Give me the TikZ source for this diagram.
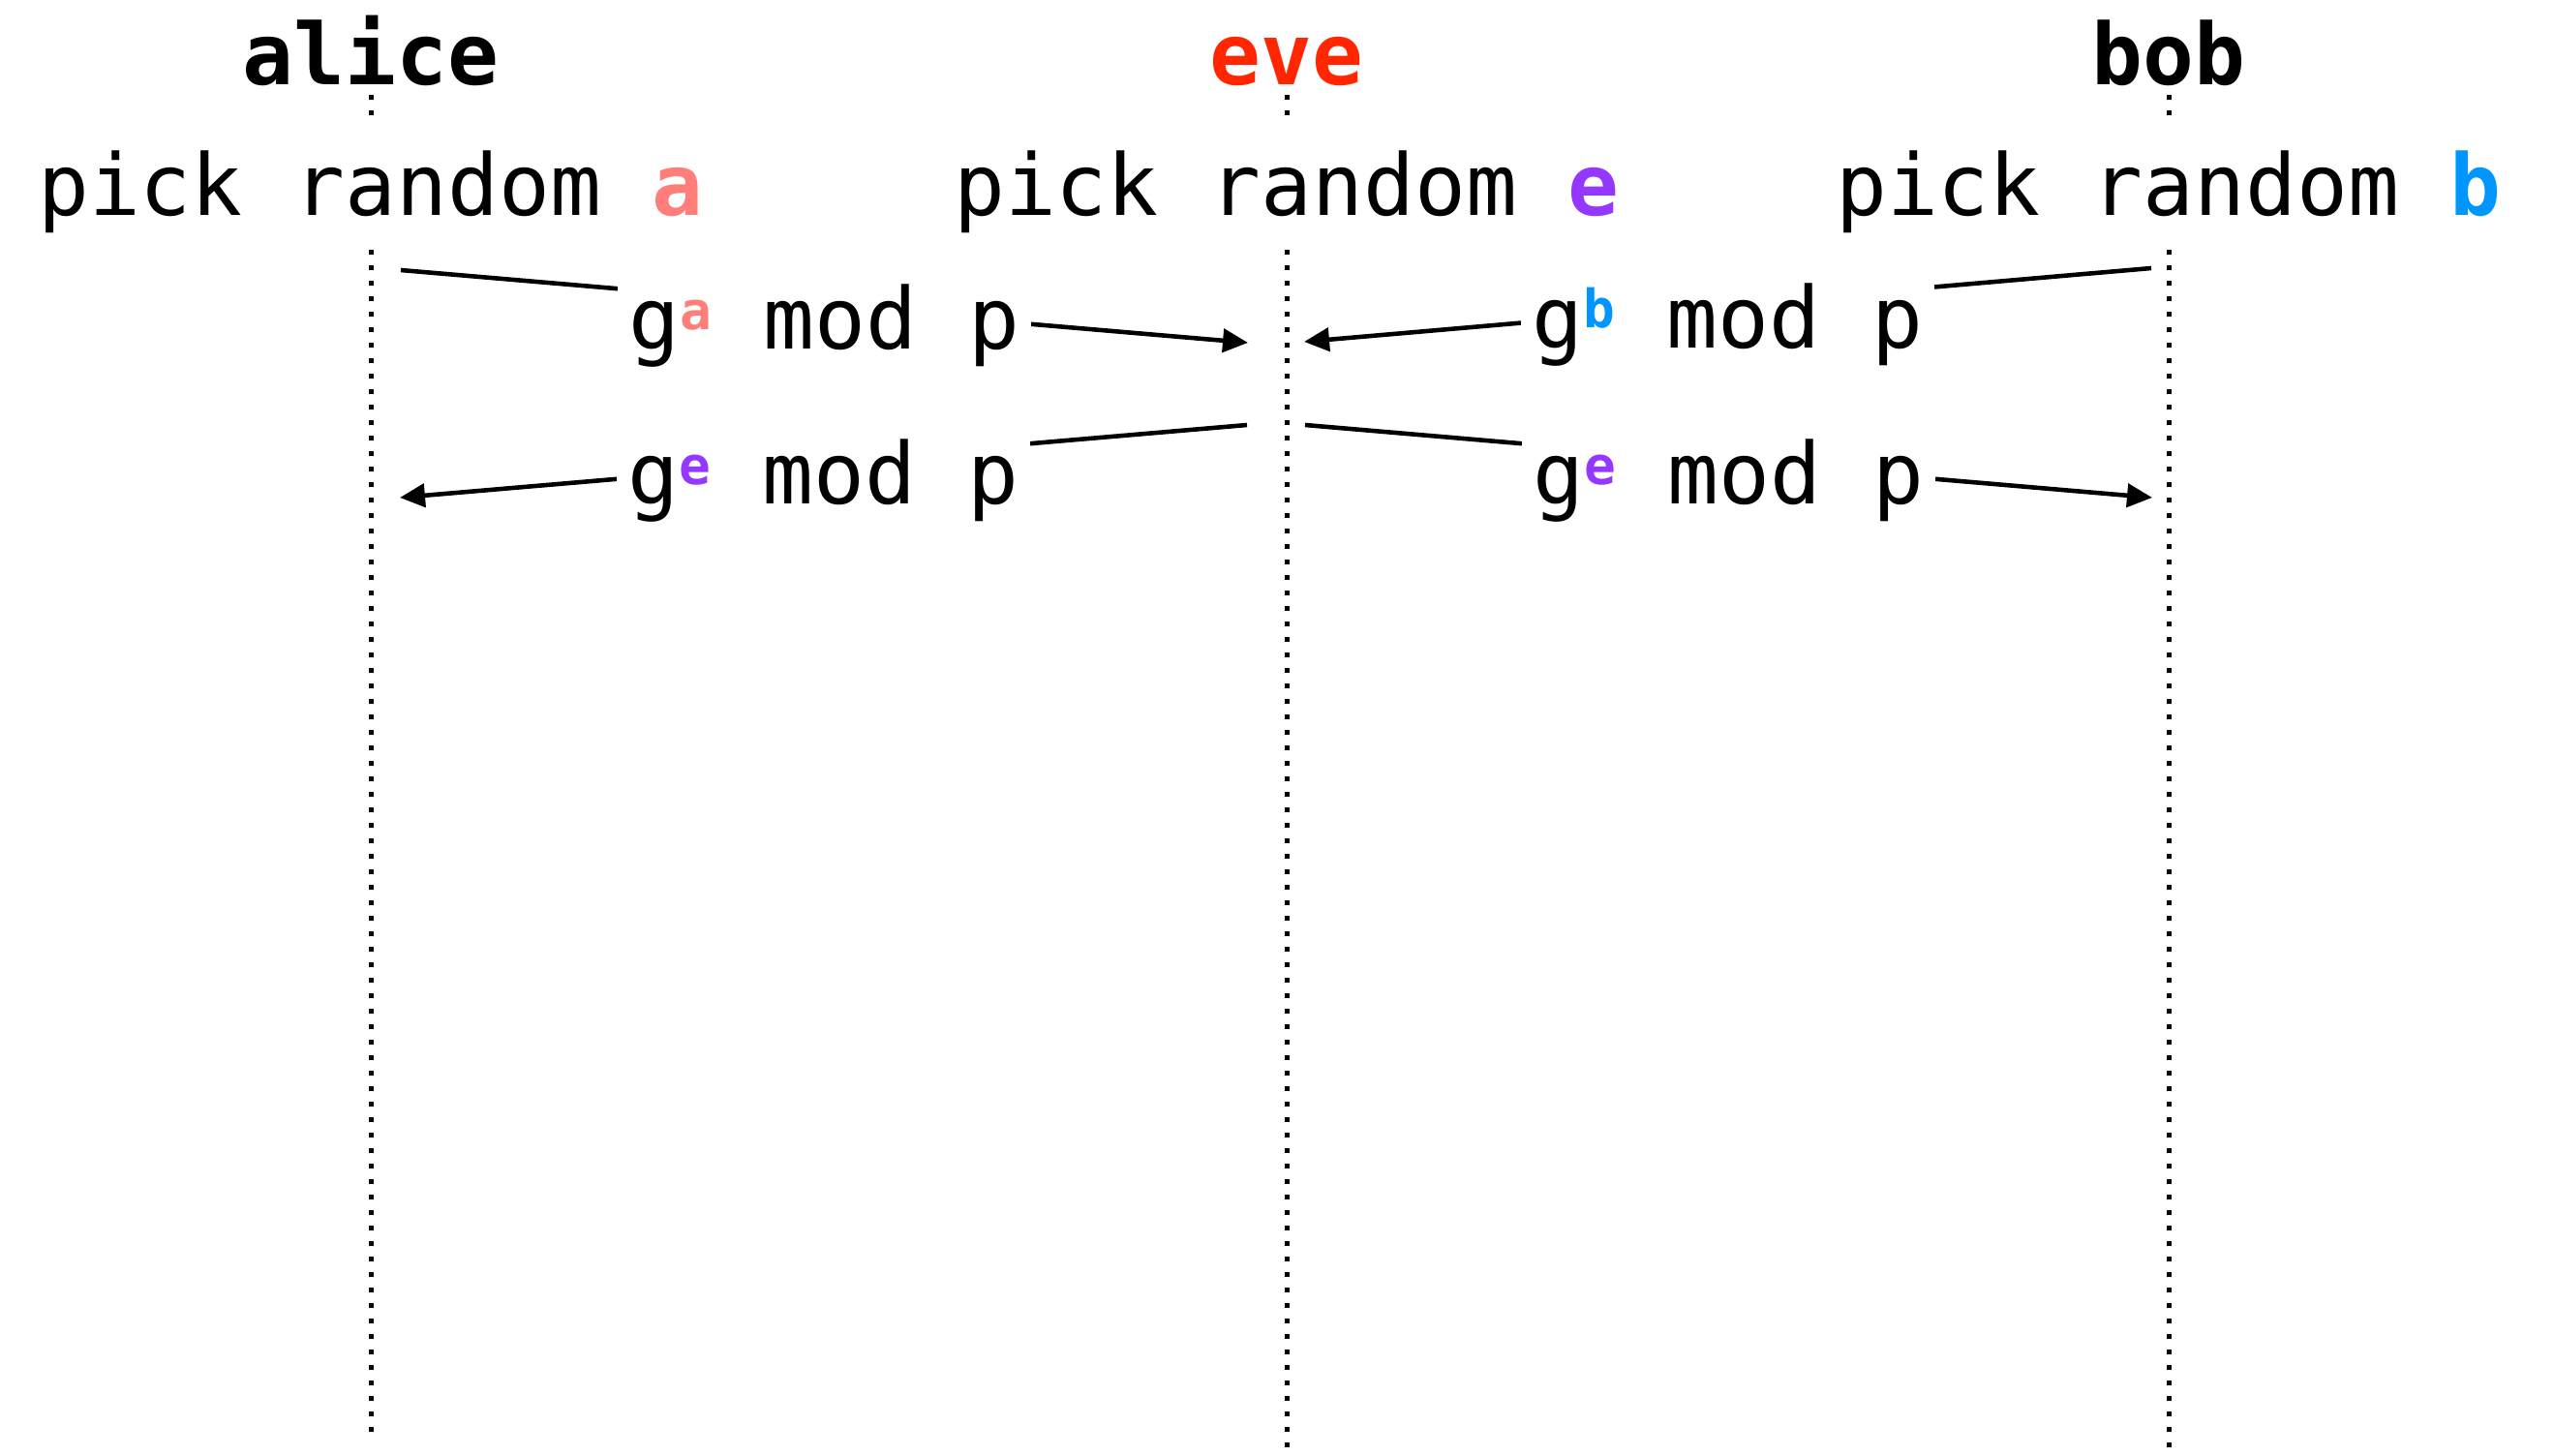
\documentclass[tikz,border=0pt]{standalone}
\usepackage{fontspec}
\setmonofont{DejaVu Sans Mono}
\usepackage{tikz}
\usetikzlibrary{arrows.meta, positioning, calc}
\usepackage{xcolor}
\definecolor{salmon}{HTML}{FF7E79}
\definecolor{evered}{HTML}{FF2600}
\definecolor{grape}{HTML}{9437FF}
\definecolor{aqua}{HTML}{0096FF}
\newcommand{\keyof}[2]{\textcolor{#1}{\bfseries #2}}
\newcommand{\powof}[2]{\raisebox{5.7pt}{\fontsize{15.5}{15.5}\selectfont\bfseries\color{#1}#2}}

\begin{document}
\begin{tikzpicture}[
  party/.style={font=\fontsize{25}{30}\selectfont\ttfamily\bfseries,
    anchor=base, inner sep=0pt},
  pick/.style={font=\fontsize{25}{30}\selectfont\ttfamily, anchor=base,
    fill=white, inner xsep=0.1cm, inner ysep=0.14cm,
    text height=0.87cm, text depth=0.21cm},
  life/.style={line width=0.05cm, dash pattern=on 0.05cm off 0.11cm},
  msg/.style={line width=1.3pt},
  lbl/.style={font=\fontsize{25}{30}\selectfont\ttfamily, fill=white,
    anchor=base, inner xsep=0.12cm, inner ysep=0.1cm, yshift=-0.44cm},
  >={Triangle[length=0.26cm, width=0.24cm]}
]
  \useasboundingbox (0,0) rectangle (26.38,-15.04);
  % Parties
  \node[party] (alice) at (3.83,-0.87) {alice};
  \node[party, text=evered] (eve) at (13.29,-0.87) {eve};
  \node[party] (bob) at (22.40,-0.87) {bob};
  % Lifelines
  \foreach \p/\b in {alice/-14.81, eve/-14.97, bob/-14.97} {
    \draw[life] ([yshift=-0.11cm]\p.base) -- (\p.base |- 0,\b);
  }
  % Secrets
  \node[pick] (apick) at (alice.base |- 0,-2.22) {pick random \keyof{salmon}{a}};
  \node[pick] (epick) at (eve.base |- 0,-2.22) {pick random \keyof{grape}{e}};
  \node[pick] (bpick) at (bob.base |- 0,-2.22) {pick random \keyof{aqua}{b}};
  % Message ends
  \coordinate (a1) at (4.14,-2.79);
  \coordinate (e1) at (12.89,-3.54);
  \coordinate (b2) at (22.22,-2.77);
  \coordinate (e2) at (13.47,-3.53);
  \coordinate (e3) at (12.88,-4.39);
  \coordinate (a3) at (4.13,-5.14);
  \coordinate (e4) at (13.48,-4.39);
  \coordinate (b4) at (22.23,-5.14);
  % Messages
  \draw[msg, ->] (a1) -- node[lbl] (m1) {g\powof{salmon}{a} mod p} (e1);
  \draw[msg, ->] (b2) -- node[lbl] (m2) {g\powof{aqua}{b} mod p} (e2);
  \draw[msg, ->] (e3) -- node[lbl] (m3) {g\powof{grape}{e} mod p} (a3);
  \draw[msg, ->] (e4) -- node[lbl] (m4) {g\powof{grape}{e} mod p} (b4);
\end{tikzpicture}
\end{document}
